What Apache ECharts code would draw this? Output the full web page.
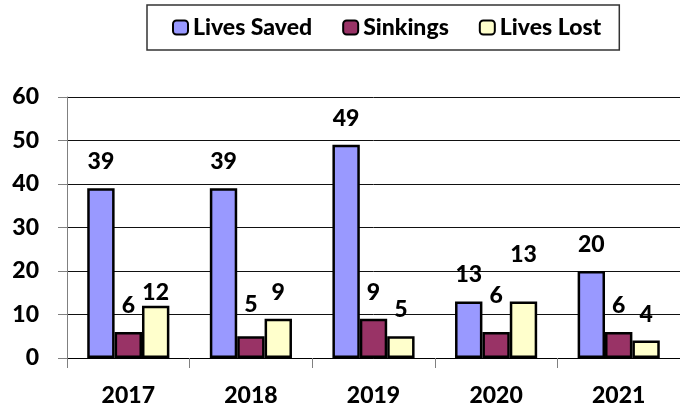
<!DOCTYPE html>
<html>
<head>
<meta charset="utf-8">
<script src="https://cdn.jsdelivr.net/npm/echarts@6/dist/echarts.min.js"></script>
<style>
  html, body { margin: 0; padding: 0; background: #fff; }
  #chart { width: 680px; height: 411px; }
</style>
</head>
<body>
<div id="chart"></div>
<script>
// data
var years = ['2017', '2018', '2019', '2020', '2021'];
var livesSaved = [39, 39, 49, 13, 20];
var sinkings = [6, 5, 9, 6, 6];
var livesLost = [12, 9, 5, 13, 4];

// a few labels sit higher/lower than the rest in the original (px, + = up)
var labelNudge = { 'Sinkings-1': 5, 'Sinkings-3': 10, 'Lives Lost-0': -13, 'Lives Lost-3': 20 };

var FONT = 'Lato, "Open Sans", sans-serif';
var FW = 900;
var FS = 23;

function makeSeries(name, values, color) {
  return {
    name: name,
    type: 'bar',
    barGap: '0%',
    barCategoryGap: '33%',
    itemStyle: { color: color, borderColor: '#000', borderWidth: 2.5 },
    data: values.map(function (v, i) {
      var n = labelNudge[name + '-' + i] || 0;
      return { value: v, label: { distance: 15 + n } };
    }),
    label: {
      show: true,
      position: 'top',
      distance: 15,
      color: '#000',
      fontFamily: FONT,
      fontWeight: FW,
      fontSize: FS,
      lineHeight: 23
    }
  };
}

var chart = echarts.init(document.getElementById('chart'), null, { renderer: 'canvas' });
chart.setOption({
  animation: false,
  backgroundColor: '#fff',
  legend: {
    left: 147,
    top: 5,
    padding: [11, 18, 11, 25],
    itemWidth: 15,
    itemHeight: 14,
    itemGap: 30,
    borderColor: '#333',
    borderWidth: 1.5,
    backgroundColor: '#fff',
    textStyle: { color: '#000', fontFamily: FONT, fontWeight: FW, fontSize: FS },
    data: ['Lives Saved', 'Sinkings', 'Lives Lost']
  },
  grid: { left: 67, top: 97, width: 620, bottom: 53, containLabel: false },
  xAxis: {
    type: 'category',
    data: years,
    axisLine: { show: true, lineStyle: { color: '#000', width: 1 } },
    axisTick: { show: true, alignWithLabel: false, length: 10, lineStyle: { color: '#808080' } },
    axisLabel: { color: '#000', fontFamily: FONT, fontWeight: FW, fontSize: FS, margin: 26 }
  },
  yAxis: {
    type: 'value',
    min: 0,
    max: 60,
    interval: 10,
    axisLine: { show: true, lineStyle: { color: '#808080', width: 1 } },
    axisTick: { show: true, length: 9, lineStyle: { color: '#808080' } },
    splitLine: { show: true, lineStyle: { color: '#111', width: 1 } },
    axisLabel: { color: '#000', fontFamily: FONT, fontWeight: FW, fontSize: FS, margin: 28 }
  },
  series: [
    makeSeries('Lives Saved', livesSaved, '#9999FF'),
    makeSeries('Sinkings', sinkings, '#993366'),
    makeSeries('Lives Lost', livesLost, '#FFFFCC')
  ]
});
</script>
</body>
</html>
